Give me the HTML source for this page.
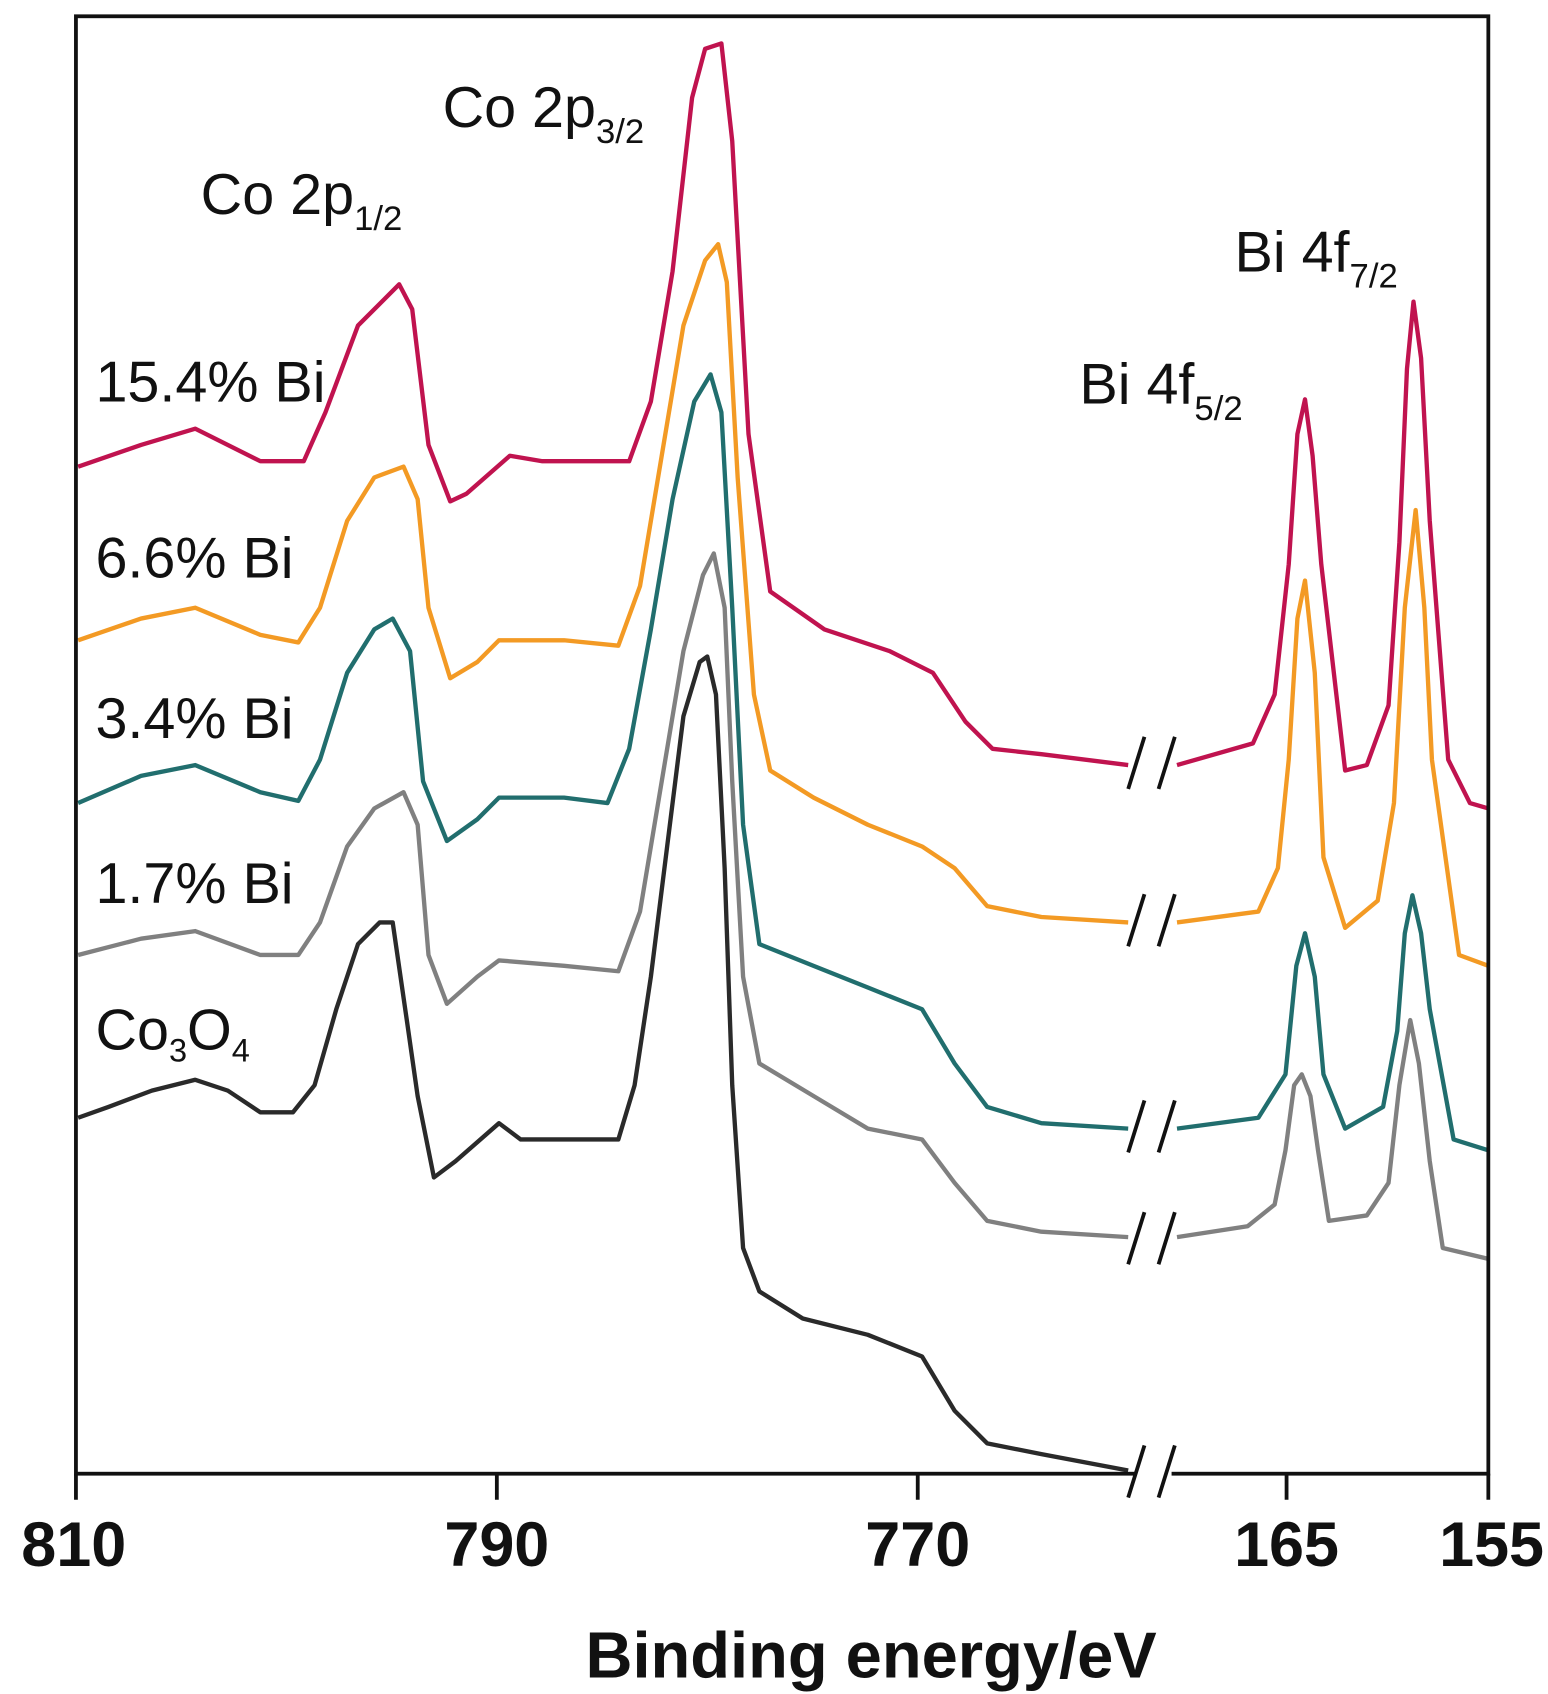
<!DOCTYPE html>
<html><head><meta charset="utf-8"><style>
html,body{margin:0;padding:0;background:#fff;}
svg{display:block;}
text{font-family:"Liberation Sans",sans-serif;fill:#111;}
</style></head><body>
<svg width="1548" height="1694" viewBox="0 0 1427 1561" preserveAspectRatio="none" xmlns="http://www.w3.org/2000/svg">
<rect x="0" y="0" width="1427" height="1561" fill="#fff"/>
<g fill="none" stroke-width="4" stroke-linejoin="round">
<polyline stroke="#2a2a2a" points="72,1030 100,1020 140,1005 180,995 210,1005 240,1025 270,1025 290,1000 310,930 330,870 350,850 362,850 375,940 385,1010 400,1085 420,1070 460,1035 480,1050 570,1050 585,1000 600,900 615,780 630,660 645,610 652,605 660,640 668,800 675,1000 685,1150 700,1190 740,1215 800,1230 850,1250 880,1300 910,1330 960,1340 1040,1355"/>
<polyline stroke="#808080" points="72,880 130,865 180,858 240,880 275,880 295,850 320,780 345,745 372,730 385,760 395,880 412,925 440,900 460,885 520,890 570,895 590,840 610,720 630,600 648,530 658,510 668,560 675,720 685,900 700,980 750,1010 800,1040 850,1050 880,1090 910,1125 960,1135 1040,1140"/>
<polyline stroke="#808080" points="1085,1140 1150,1130 1175,1110 1185,1060 1193,1000 1200,990 1208,1010 1215,1060 1225,1125 1260,1120 1280,1090 1290,1000 1300,940 1308,980 1318,1070 1330,1150 1372,1160"/>
<polyline stroke="#216e6e" points="72,740 130,715 180,705 240,730 275,738 295,700 320,620 345,580 362,570 378,600 390,720 412,775 440,755 460,735 520,735 560,740 580,690 600,580 620,460 640,370 655,345 665,380 675,560 685,760 700,870 750,890 800,910 850,930 880,980 910,1020 960,1035 1040,1040"/>
<polyline stroke="#216e6e" points="1085,1040 1160,1030 1185,990 1195,890 1203,860 1212,900 1220,990 1240,1040 1275,1020 1288,950 1295,860 1302,825 1310,860 1318,930 1340,1050 1372,1060"/>
<polyline stroke="#f39a24" points="72,590 130,570 180,560 240,585 275,592 295,560 320,480 345,440 372,430 385,460 395,560 415,625 440,610 460,590 520,590 570,595 590,540 610,420 630,300 650,240 662,225 670,260 680,440 695,640 710,710 750,735 800,760 850,780 880,800 910,835 960,845 1040,850"/>
<polyline stroke="#f39a24" points="1085,850 1160,840 1178,800 1188,700 1196,570 1203,535 1212,620 1220,790 1240,855 1270,830 1285,740 1295,560 1305,470 1313,560 1320,700 1345,880 1372,890"/>
<polyline stroke="#c0134f" points="72,430 130,410 180,395 240,425 280,425 300,380 330,300 368,262 380,285 395,410 415,462 430,455 470,420 500,425 580,425 600,370 620,250 638,90 650,45 665,40 675,130 690,400 710,545 760,580 820,600 860,620 890,665 915,690 960,695 1040,705"/>
<polyline stroke="#c0134f" points="1085,705 1155,685 1175,640 1188,520 1196,400 1203,368 1210,420 1218,520 1240,710 1260,705 1280,650 1290,500 1297,340 1303,278 1310,330 1318,480 1335,700 1355,740 1372,745"/>
</g>
<g stroke="#111" stroke-width="3.5" fill="none">
<rect x="70" y="15" width="1302" height="1343"/>
<line x1="70" y1="1358" x2="70" y2="1382"/>
<line x1="458" y1="1358" x2="458" y2="1382"/>
<line x1="846" y1="1358" x2="846" y2="1382"/>
<line x1="1186" y1="1358" x2="1186" y2="1382"/>
<line x1="1372" y1="1358" x2="1372" y2="1382"/>
</g>
<g stroke="#fff" stroke-width="24"><line x1="1047" y1="1358" x2="1080" y2="1358"/></g>
<g stroke="#111" stroke-width="3.5">
<line x1="1040" y1="1380" x2="1055" y2="1332"/><line x1="1068" y1="1380" x2="1083" y2="1332"/>
<line x1="1040" y1="1165" x2="1055" y2="1117"/><line x1="1068" y1="1165" x2="1083" y2="1117"/>
<line x1="1040" y1="1062" x2="1055" y2="1014"/><line x1="1068" y1="1062" x2="1083" y2="1014"/>
<line x1="1040" y1="872" x2="1055" y2="824"/><line x1="1068" y1="872" x2="1083" y2="824"/>
<line x1="1040" y1="727" x2="1055" y2="679"/><line x1="1068" y1="727" x2="1083" y2="679"/>
</g>
<g font-size="58" font-weight="bold" text-anchor="middle">
<text x="68" y="1443">810</text><text x="458" y="1443">790</text><text x="846" y="1443">770</text><text x="1186" y="1443">165</text><text x="1375" y="1443">155</text>
<text x="803" y="1546" font-size="60">Binding energy/eV</text>
</g>
<g font-size="53">
<text x="88" y="370">15.4% Bi</text>
<text x="88" y="532">6.6% Bi</text>
<text x="88" y="680">3.4% Bi</text>
<text x="88" y="832">1.7% Bi</text>
<text x="88" y="967">Co<tspan font-size="30" dy="11">3</tspan><tspan dy="-11">O</tspan><tspan font-size="30" dy="11">4</tspan></text>
<text x="185" y="197">Co 2p<tspan font-size="32" dy="15">1/2</tspan></text>
<text x="408" y="117">Co 2p<tspan font-size="32" dy="15">3/2</tspan></text>
<text x="1138" y="250">Bi 4f<tspan font-size="32" dy="15">7/2</tspan></text>
<text x="995" y="372">Bi 4f<tspan font-size="32" dy="15">5/2</tspan></text>
</g>
</svg>
</body></html>
